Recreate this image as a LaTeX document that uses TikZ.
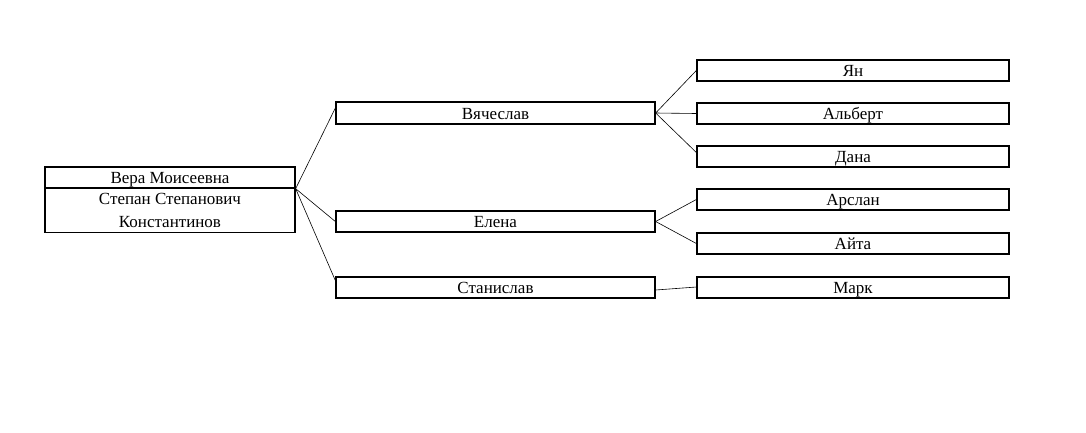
\documentclass[tikz,border=0pt]{standalone}
\usepackage{fontspec}
\setmainfont{Liberation Serif}
\usetikzlibrary{positioning}

\begin{document}
\begin{tikzpicture}[
  x=1pt, y=-1pt,
  box/.style={rectangle, draw, line width=1.3pt, inner sep=0pt, align=center,
    font=\fontsize{17}{23}\selectfont},
  kid/.style={box, minimum width=312pt, minimum height=21pt, text height=12pt, text depth=0pt},
  link/.style={draw, line width=0.6pt}
]
  \useasboundingbox (0,0) rectangle (1086,432);

  % root couple
  \node[box, minimum width=250pt, minimum height=21pt, text height=12pt, text depth=0pt] (vera) at (170,177.5) {Вера Моисеевна};
  \node[box, minimum width=250pt, minimum height=44pt] (stepan) at (170,210.5) {Степан Степанович\\Константинов};

  % children
  \node[box, minimum width=319pt, minimum height=22pt, text height=12pt, text depth=0pt] (vyach) at (495.5,113) {Вячеслав};
  \node[box, minimum width=319pt, minimum height=21pt, text height=12pt, text depth=0pt] (elena) at (495.5,221.5) {Елена};
  \node[box, minimum width=319pt, minimum height=21pt, text height=12pt, text depth=0pt] (stan) at (495.5,287.5) {Станислав};

  % grandchildren
  \node[kid] (yan) at (853,70.5) {Ян};
  \node[kid] (albert) at (853,113.5) {Альберт};
  \node[kid] (dana) at (853,156.5) {Дана};
  \node[kid] (arslan) at (853,199.5) {Арслан};
  \node[kid] (ayta) at (853,243.5) {Айта};
  \node[kid] (mark) at (853,287.5) {Марк};

  \draw[link] (vera.south east) -- ([yshift=5pt]vyach.west);
  \draw[link] (vera.south east) -- (elena.west);
  \draw[link] (vera.south east) -- ([yshift=7pt]stan.west);

  \draw[link] (vyach.east) -- (yan.west);
  \draw[link] (vyach.east) -- (albert.west);
  \draw[link] (vyach.east) -- ([yshift=4pt]dana.west);
  \draw[link] (elena.east) -- (arslan.west);
  \draw[link] (elena.east) -- (ayta.west);
  \draw[link] ([yshift=-2.5pt]stan.east) -- ([yshift=0.5pt]mark.west);
\end{tikzpicture}
\end{document}
